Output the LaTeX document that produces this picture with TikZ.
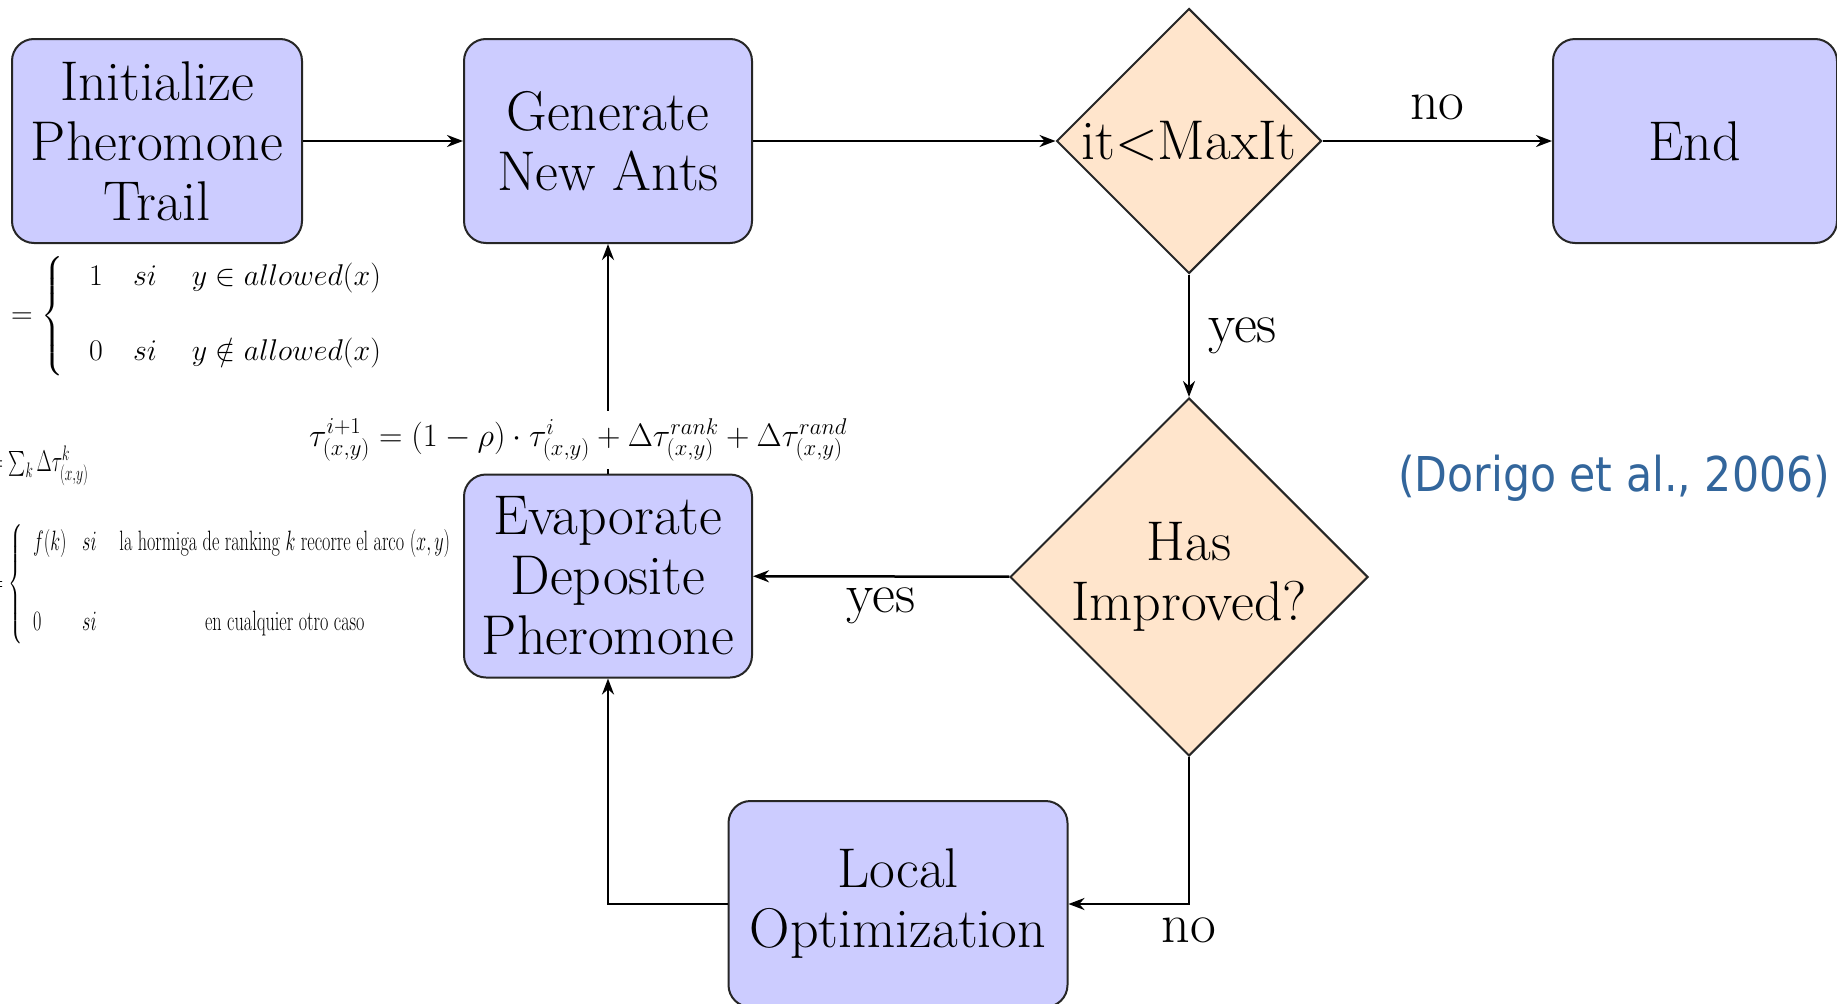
\RequirePackage{fix-cm}
\documentclass[tikz,border=0pt]{standalone}
\usepackage{fontspec}
\usepackage{amsmath}
\usepackage{graphicx}
\usetikzlibrary{arrows.meta,shapes.geometric}
\newfontfamily\citefont{DejaVu Sans}
\definecolor{citeblue}{RGB}{51,102,156}
\newcommand\mainsz{\fontsize{56}{60}\selectfont}
\newcommand\mathsz{\fontsize{28}{34}\selectfont}
\newcommand\casesz{\fontsize{30}{36}\selectfont}
\newcommand\updsz{\fontsize{32.5}{38}\selectfont}

\tikzset{
  procbox/.style={draw=black!85, line width=2pt, fill=blue!20, rounded corners=22pt,
                  align=center, font=\mainsz, inner sep=0pt},
  decision/.style={diamond, draw=black!85, line width=2pt, fill=orange!20,
                   align=center, font=\mainsz, inner sep=-20pt},
  flow/.style={line width=2.5pt, -{Stealth[length=16pt,width=12pt]}},
  lbl/.style={font=\mainsz, inner sep=0pt},
  formula/.style={inner sep=0pt, font=\mathsz, anchor=west}
}

\begin{document}
\begin{tikzpicture}[x=1pt,y=-1pt]
\useasboundingbox (0,0) rectangle (1837,1004);
\fill[white] (0,0) rectangle (1837,1004);
\clip (0,0) rectangle (1837,1004);

% process boxes and decisions
\node[procbox, minimum width=290pt, minimum height=204pt] (init) at (157,141) {Initialize\\Pheromone\\Trail};
\node[procbox, minimum width=288pt, minimum height=204pt] (gen) at (608,141) {Generate\\New Ants};
\node[decision, minimum width=265pt, minimum height=265pt] (d1) at (1189,141) {it$<$MaxIt};
\node[procbox, minimum width=284pt, minimum height=204pt] (end) at (1695,141) {End};
\node[decision, minimum width=358pt, minimum height=358pt] (d2) at (1189,577) {Has\\Improved?};
\node[procbox, minimum width=288pt, minimum height=203pt] (evap) at (608,576) {Evaporate\\Deposite\\Pheromone};
\node[procbox, minimum width=339pt, minimum height=206pt] (loc) at (898,904) {Local\\Optimization};

% connectors
\draw[flow] (init) -- (gen);
\draw[flow] (gen) -- (d1);
\draw[flow] (d1) -- node[lbl, above=20pt] {no} (end);
\draw[flow] (d1) -- node[lbl, right=18pt] {yes} (d2);
\draw[flow] (d2) -- node[lbl, below=10pt] {yes} (evap);
\draw[flow] (d2.south) |- node[lbl, pos=0.5, below=12pt] {no} (loc.east);
\draw[flow] (loc.west) -| (evap.south);
\draw[flow] (evap.north) -- (gen.south);

% pheromone update rule
\node[fill=white, inner sep=7pt, font=\updsz] (upd) at (578,440)
  {$\tau^{i+1}_{(x,y)} = (1-\rho)\cdot\tau^{i}_{(x,y)} + \Delta\tau^{rank}_{(x,y)} + \Delta\tau^{rand}_{(x,y)}$};

% side formulas
\node[formula, font=\casesz] (f1) at (11,316)
  {$= \left\{\begin{array}{@{\hspace{26pt}}l} 1 \quad si \quad\, y \in allowed(x) \\[1.3em] 0 \quad si \quad\, y \notin allowed(x) \end{array}\right.$};
\node[formula, font=\casesz] (f2) at (-11,466)
  {\scalebox{0.65}[1]{$=\sum_k \Delta\tau^k_{(x,y)}$}};
\node[formula] (f3) at (-10,584)
  {\scalebox{0.65}[1]{$=\left\{\begin{array}{@{\hspace{16pt}}l@{\hspace{24pt}}l@{\hspace{35pt}}c} f(k) & si & \text{la hormiga de ranking $k$ recorre el arco $(x,y)$}\\[1.64em] 0 & si & \text{en cualquier otro caso}\end{array}\right.$}};

% reference
\node[text=citeblue, anchor=west, inner sep=0pt] (cite) at (1398,478)
  {\citefont\fontsize{48}{56}\selectfont\scalebox{0.888}[1]{(Dorigo et al., 2006)}};
\end{tikzpicture}
\end{document}
